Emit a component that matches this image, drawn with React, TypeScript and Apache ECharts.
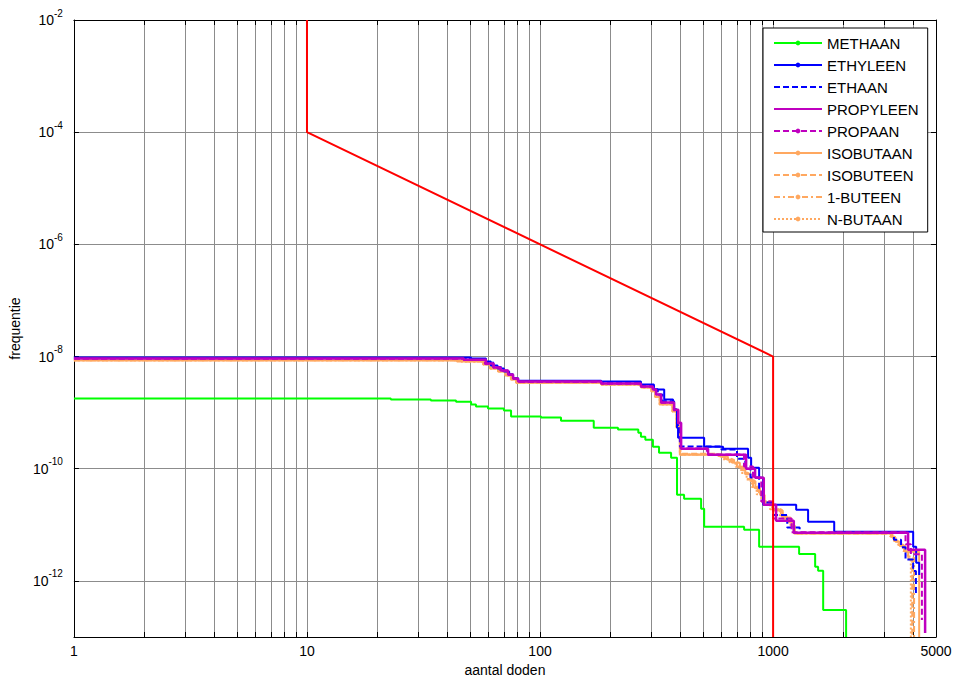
import React, { useEffect, useRef } from 'react';
import * as echarts from 'echarts';

// ---------- axis values ----------
const xLabelValues = [1, 10, 100, 1000, 5000];
const xTickValues = [
  1, 2, 3, 4, 5, 6, 7, 8, 9,
  10, 20, 30, 40, 50, 60, 70, 80, 90,
  100, 200, 300, 400, 500, 600, 700, 800, 900,
  1000, 2000, 3000, 4000, 5000,
];
const yLabelValues = [1e-12, 1e-10, 1e-8, 1e-6, 1e-4, 1e-2];

// ---------- series data [aantal doden, frequentie] ----------
const methaan: [number, number][] = [
  [1, 1.78e-9], [22.9, 1.71e-9], [34, 1.64e-9], [43.6, 1.57e-9], [50.6, 1.39e-9],
  [53.1, 1.28e-9], [59.8, 1.18e-9], [70, 1.09e-9], [75.1, 8.5e-10], [101, 8.15e-10],
  [123, 7.2e-10], [170, 5.4e-10], [216, 5.0e-10], [264, 4.4e-10], [271, 3.72e-10],
  [283, 3.3e-10], [305, 2.47e-10], [324, 1.93e-10], [365, 1.57e-10], [387, 3.43e-11],
  [415, 2.91e-11], [491, 1.93e-11], [506, 9.2e-12], [751, 8.15e-12], [871, 4.05e-12],
  [1293, 3.03e-12], [1515, 1.78e-12], [1560, 1.51e-12], [1640, 3.03e-13], [2057, 1e-13],
];

const ethyleen: [number, number][] = [
  [1, 9.6e-9], [50.6, 9.2e-9], [58.6, 8.15e-9], [61.5, 6.9e-9], [65.7, 6.1e-9],
  [70, 5.4e-9], [73.7, 4.77e-9], [76.6, 4.05e-9], [80.5, 3.72e-9], [183, 3.58e-9],
  [271, 3.16e-9], [308, 2.58e-9], [341, 1.71e-9], [372, 1.51e-9], [376, 1.13e-9],
  [387, 5.4e-10], [391, 3.58e-10], [506, 2.47e-10], [610, 2.28e-10], [781, 1.57e-10],
  [805, 1.04e-10], [871, 6.9e-11], [906, 2.28e-11], [1256, 1.85e-11], [1413, 1.13e-11],
  [1829, 7.5e-12], [3990, 4.05e-12], [4110, 2.1e-12], [4234, 1.28e-12],
];

const ethaan: [number, number][] = [
  [1, 9.4e-9], [48, 9.0e-9], [58.6, 7.8e-9], [63, 6.5e-9], [68, 5.6e-9],
  [73, 4.8e-9], [76.6, 4.1e-9], [80.5, 3.6e-9], [183, 3.4e-9], [271, 3.0e-9],
  [308, 2.6e-9], [320, 2.1e-9], [335, 1.6e-9], [376, 1.15e-9], [390, 6.0e-10],
  [398, 2.5e-10], [600, 2.2e-10], [700, 1.5e-10], [760, 1.0e-10], [800, 7.0e-11],
  [871, 4.5e-11], [906, 2.5e-11], [1000, 1.5e-11], [1150, 9.0e-12], [1300, 7.2e-12],
  [3300, 5.4e-12], [3540, 4.0e-12], [3700, 2.4e-12], [3990, 1.5e-12], [4100, 6.0e-13],
];

const propyleen: [number, number][] = [
  [1, 9.2e-9], [47.1, 8.8e-9], [58.6, 7.5e-9], [63.2, 6.37e-9], [67.8, 5.62e-9],
  [72.9, 4.77e-9], [76.6, 4.05e-9], [80.5, 3.58e-9], [183, 3.3e-9], [271, 2.91e-9],
  [305, 2.58e-9], [315, 2.1e-9], [331, 1.51e-9], [376, 1.13e-9], [392, 6.6e-10],
  [403, 2.28e-10], [526, 1.78e-10], [766, 1.0e-10], [837, 6.9e-11], [912, 2.28e-11],
  [1030, 1.18e-11], [1227, 7.2e-12], [3795, 3.58e-12], [4490, 1.18e-13],
];

const propaan: [number, number][] = [
  [1, 9.1e-9], [47, 8.7e-9], [58, 7.4e-9], [63, 6.3e-9], [67.5, 5.6e-9],
  [72.5, 4.7e-9], [76.3, 4.0e-9], [80, 3.55e-9], [183, 3.28e-9], [271, 2.9e-9],
  [304, 2.55e-9], [314, 2.05e-9], [330, 1.5e-9], [375, 1.1e-9], [391, 6.4e-10],
  [401, 2.3e-10], [520, 1.8e-10], [750, 1.1e-10], [820, 7.0e-11], [890, 2.6e-11],
  [1000, 1.3e-11], [1200, 7.4e-12], [3700, 4.5e-12], [3900, 3.0e-12], [4350, 2.0e-13],
];

const isobutaan: [number, number][] = [
  [1, 8.5e-9], [44, 8.15e-9], [57, 7.2e-9], [61, 6.1e-9], [66, 5.4e-9],
  [71, 4.6e-9], [75, 3.9e-9], [79, 3.4e-9], [183, 3.16e-9], [271, 2.8e-9],
  [300, 2.4e-9], [312, 1.9e-9], [326, 1.4e-9], [370, 1.05e-9], [385, 5.5e-10],
  [398, 1.78e-10], [600, 1.64e-10], [640, 1.45e-10], [680, 1.28e-10], [720, 1.04e-10],
  [760, 8.0e-11], [800, 6.0e-11], [840, 4.5e-11], [880, 3.4e-11], [920, 2.5e-11],
  [1000, 1.8e-11], [1100, 1.3e-11], [1200, 9.5e-12], [1240, 7.0e-12], [3250, 6.0e-12],
  [3350, 5.0e-12], [3500, 4.2e-12], [3700, 3.3e-12], [4234, 1e-13],
];

const isobuteen: [number, number][] = [
  [1, 8.7e-9], [45, 8.3e-9], [57, 7.4e-9], [61.5, 6.2e-9], [66, 5.5e-9],
  [71, 4.7e-9], [75, 4.0e-9], [79, 3.45e-9], [183, 3.2e-9], [271, 2.85e-9],
  [302, 2.45e-9], [314, 1.95e-9], [328, 1.45e-9], [372, 1.08e-9], [387, 5.8e-10],
  [400, 1.85e-10], [580, 1.7e-10], [620, 1.5e-10], [660, 1.3e-10], [700, 1.1e-10],
  [740, 8.5e-11], [780, 6.5e-11], [820, 4.8e-11], [860, 3.6e-11], [900, 2.6e-11],
  [980, 1.9e-11], [1080, 1.4e-11], [1180, 1.0e-11], [1230, 7.1e-12], [3200, 6.2e-12],
  [3300, 5.2e-12], [3450, 4.4e-12], [3650, 3.4e-12], [3800, 2.4e-12], [3953, 1e-13],
];

const buteen1: [number, number][] = [
  [1, 8.6e-9], [46, 8.2e-9], [57.5, 7.3e-9], [61.5, 6.15e-9], [66, 5.45e-9],
  [71.5, 4.65e-9], [75.5, 3.95e-9], [79.5, 3.42e-9], [183, 3.18e-9], [271, 2.82e-9],
  [301, 2.42e-9], [313, 1.92e-9], [327, 1.42e-9], [371, 1.06e-9], [386, 5.6e-10],
  [399, 1.8e-10], [590, 1.66e-10], [630, 1.47e-10], [670, 1.29e-10], [710, 1.06e-10],
  [750, 8.2e-11], [790, 6.2e-11], [830, 4.6e-11], [870, 3.5e-11], [910, 2.55e-11],
  [990, 1.85e-11], [1090, 1.35e-11], [1190, 9.8e-12], [1235, 7.0e-12], [3230, 6.1e-12],
  [3330, 5.1e-12], [3480, 4.3e-12], [3680, 3.35e-12], [3850, 2.6e-12], [4027, 1e-13],
];

const nbutaan: [number, number][] = [
  [1, 8.55e-9], [45, 8.2e-9], [57, 7.25e-9], [61, 6.1e-9], [66, 5.4e-9],
  [71, 4.6e-9], [75, 3.9e-9], [79, 3.4e-9], [183, 3.15e-9], [271, 2.8e-9],
  [300, 2.4e-9], [312, 1.9e-9], [326, 1.4e-9], [370, 1.05e-9], [385, 5.5e-10],
  [398, 1.8e-10], [570, 1.68e-10], [610, 1.48e-10], [650, 1.3e-10], [690, 1.08e-10],
  [730, 8.4e-11], [770, 6.4e-11], [810, 4.7e-11], [850, 3.5e-11], [890, 2.6e-11],
  [970, 1.9e-11], [1070, 1.4e-11], [1170, 1.0e-11], [1225, 7.1e-12], [3180, 6.2e-12],
  [3280, 5.2e-12], [3430, 4.4e-12], [3620, 3.4e-12], [3780, 2.5e-12], [3900, 1e-13],
];

const criterium: [number, number][] = [
  [10, 1e-2], [10, 1e-4], [1000, 1e-8], [1000, 1e-13],
];

// ---------- styling ----------
const FONT = "'Liberation Sans', Arial, Helvetica, sans-serif";
const GREEN = '#00ff00';
const BLUE = '#0000ff';
const PURPLE = '#bf00bf';
const ORANGE = '#ffa860';
const RED = '#ff0000';

const legendOrder = [
  'METHAAN', 'ETHYLEEN', 'ETHAAN', 'PROPYLEEN', 'PROPAAN',
  'ISOBUTAAN', 'ISOBUTEEN', '1-BUTEEN', 'N-BUTAAN',
];
const noMarkerInLegend = ['ETHAAN', 'PROPYLEEN'];

type Spec = { name: string; data: [number, number][]; color: string; dash: any; width: number; step: boolean };

// drawing order (later on top)
const specs: Spec[] = [
  { name: 'METHAAN', data: methaan, color: GREEN, dash: 'solid', width: 2, step: true },
  { name: 'N-BUTAAN', data: nbutaan, color: ORANGE, dash: [2, 2], width: 2, step: true },
  { name: '1-BUTEEN', data: buteen1, color: ORANGE, dash: [6, 3, 2, 3], width: 2, step: true },
  { name: 'ISOBUTEEN', data: isobuteen, color: ORANGE, dash: [6, 3], width: 2, step: true },
  { name: 'ISOBUTAAN', data: isobutaan, color: ORANGE, dash: 'solid', width: 2, step: true },
  { name: 'ETHAAN', data: ethaan, color: BLUE, dash: [6, 3], width: 2, step: true },
  { name: 'ETHYLEEN', data: ethyleen, color: BLUE, dash: 'solid', width: 2, step: true },
  { name: 'PROPAAN', data: propaan, color: PURPLE, dash: [6, 3], width: 2, step: true },
  { name: 'PROPYLEEN', data: propyleen, color: PURPLE, dash: 'solid', width: 2.5, step: true },
  { name: 'criterium', data: criterium, color: RED, dash: 'solid', width: 2, step: false },
];

function buildOption(): any {
  const series = specs.map((s) => ({
    name: s.name,
    type: 'line',
    data: s.data,
    step: s.step ? 'end' : false,
    xAxisIndex: 0,
    yAxisIndex: 0,
    symbol: 'circle',
    symbolSize: 5,
    showSymbol: false,
    silent: true,
    clip: true,
    emphasis: { disabled: true },
    itemStyle: { color: s.color },
    lineStyle: { color: s.color, width: s.width, type: s.dash },
  }));

  const tickCommon = { show: true, inside: true, length: 5, lineStyle: { color: '#000', width: 1 } };
  const lineCommon = { show: true, onZero: false, lineStyle: { color: '#000', width: 1 } };

  return {
    animation: false,
    backgroundColor: '#ffffff',
    textStyle: { fontFamily: FONT },
    grid: { left: 73, right: 20, top: 20, bottom: 45, containLabel: false },
    legend: {
      show: true,
      orient: 'vertical',
      left: 763,
      top: 28,
      backgroundColor: '#ffffff',
      borderColor: '#000',
      borderWidth: 1,
      borderRadius: 0,
      padding: [7, 9, 5, 10],
      itemWidth: 48,
      itemHeight: 6,
      itemGap: 6,
      selectedMode: false,
      textStyle: { fontSize: 15, color: '#000', fontFamily: FONT, lineHeight: 16 },
      data: legendOrder.map((n) =>
        noMarkerInLegend.includes(n) ? { name: n, itemStyle: { opacity: 0 } } : { name: n }
      ),
    },
    xAxis: [
      {
        type: 'log',
        logBase: 10,
        min: 1,
        max: 5000,
        position: 'bottom',
        name: 'aantal doden',
        nameLocation: 'middle',
        nameGap: 25,
        nameTextStyle: { fontSize: 14, color: '#000', fontFamily: FONT },
        axisLine: lineCommon,
        axisTick: { ...tickCommon, customValues: xTickValues },
        axisLabel: {
          customValues: xLabelValues,
          formatter: (v: number) => String(Math.round(v)),
          fontSize: 14,
          color: '#000',
          fontFamily: FONT,
          margin: 7,
        },
        splitLine: { show: true, lineStyle: { color: '#8c8c8c', width: 1 } },
      },
      {
        type: 'log',
        logBase: 10,
        min: 1,
        max: 5000,
        position: 'top',
        axisLine: lineCommon,
        axisTick: { ...tickCommon, customValues: xTickValues },
        axisLabel: { show: false },
        splitLine: { show: false },
      },
    ],
    yAxis: [
      {
        type: 'log',
        logBase: 10,
        min: 1e-13,
        max: 1e-2,
        position: 'left',
        name: 'frequentie',
        nameLocation: 'middle',
        nameGap: 49,
        nameTextStyle: { fontSize: 14, color: '#000', fontFamily: FONT },
        axisLine: lineCommon,
        axisTick: { ...tickCommon, customValues: yLabelValues },
        axisLabel: {
          customValues: yLabelValues,
          formatter: (v: number) => `{b|10}{s|${Math.round(Math.log10(v))}}`,
          margin: 11,
          rich: {
            b: { fontSize: 14, lineHeight: 24, color: '#000', fontFamily: FONT },
            s: { fontSize: 10, lineHeight: 10, verticalAlign: 'top', color: '#000', fontFamily: FONT },
          },
        },
        splitLine: { show: true, lineStyle: { color: '#8c8c8c', width: 1 } },
      },
      {
        type: 'log',
        logBase: 10,
        min: 1e-13,
        max: 1e-2,
        position: 'right',
        axisLine: lineCommon,
        axisTick: { ...tickCommon, customValues: yLabelValues },
        axisLabel: { show: false },
        splitLine: { show: false },
      },
    ],
    series,
  };
}

export default function App() {
  const ref = useRef<HTMLDivElement>(null);
  useEffect(() => {
    if (!ref.current) return;
    const chart = echarts.init(ref.current, undefined, { renderer: 'svg' });
    chart.setOption(buildOption());
    return () => chart.dispose();
  }, []);
  return (
    <div
      ref={ref}
      style={{ position: 'fixed', left: 0, top: 0, width: 956, height: 682, background: '#fff' }}
    />
  );
}
